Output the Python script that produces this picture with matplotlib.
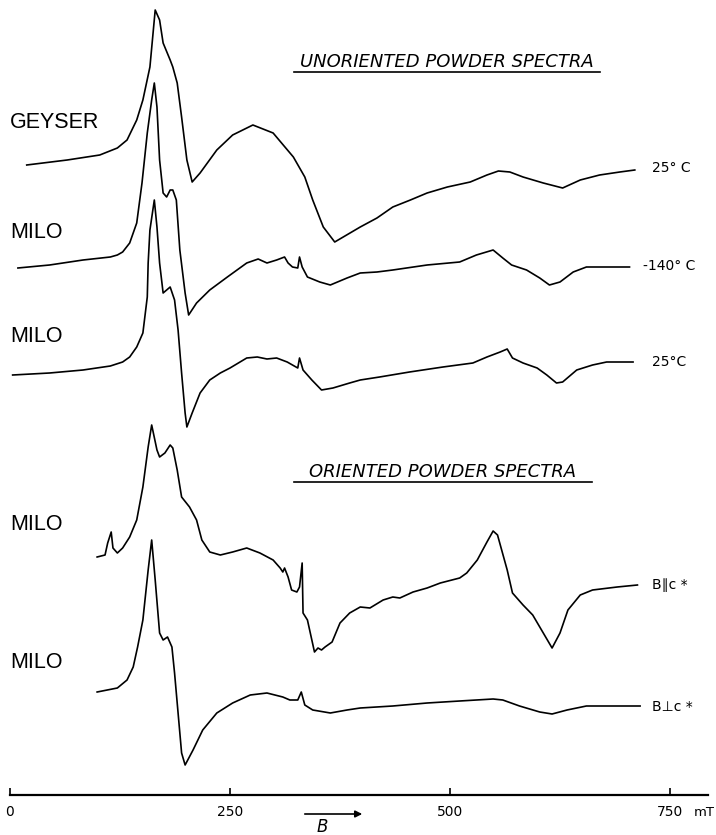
import matplotlib.pyplot as plt
import numpy as np

# === ESR traces: field (mT) and derivative signal (arb. units) ===
geyser_25_field = [19, 65, 102, 122, 133, 144, 151, 159, 165, 170, 174, 182, 185, 190, 195, 201, 207,
                   216, 235, 253, 276, 299, 322, 335, 344, 356, 369, 398, 417, 435, 455, 474, 497,
                   523, 542, 555, 568, 583, 606, 628, 648, 670, 693, 710]
geyser_25_signal = [0, 5, 10, 17, 25, 45, 65, 98, 155, 145, 122, 105, 98, 82, 48, 5, -17,
                    -8, 15, 30, 40, 32, 8, -12, -35, -62, -77, -62, -53, -42, -35, -28, -22,
                    -17, -10, -6, -7, -12, -18, -23, -15, -10, -7, -5]

milo_m140_field = [9, 45, 83, 114, 122, 128, 136, 144, 150, 156, 161, 164, 167, 170, 174, 178, 182,
                   185, 189, 193, 199, 203, 212, 227, 247, 269, 282, 292, 303, 312, 316, 321, 327,
                   329, 332, 338, 352, 364, 383, 398, 417, 435, 474, 511, 530, 549, 560, 570, 587,
                   602, 613, 625, 640, 655, 682, 704]
milo_m140_signal = [0, 3, 8, 11, 13, 16, 25, 45, 85, 135, 168, 185, 161, 108, 75, 71, 78,
                    78, 68, 18, -25, -47, -35, -22, -9, 5, 9, 5, 8, 11, 5, 1, 0,
                    11, 1, -9, -14, -17, -10, -5, -4, -2, 3, 6, 13, 18, 10, 3, -2,
                    -10, -17, -14, -4, 1, 1, 1]

milo_25_field = [3, 45, 83, 114, 128, 136, 144, 151, 156, 157, 159, 164, 167, 170, 174, 178, 182,
                 187, 191, 195, 199, 201, 207, 216, 227, 239, 250, 269, 281, 292, 303, 315, 321,
                 327, 329, 333, 343, 354, 367, 386, 398, 420, 454, 492, 526, 542, 557, 565, 571,
                 583, 599, 610, 621, 628, 644, 662, 678, 708]
milo_25_signal = [0, 2, 5, 9, 13, 18, 28, 42, 78, 112, 145, 175, 148, 112, 82, 85, 88,
                  75, 45, 2, -38, -52, -38, -18, -5, 2, 7, 17, 18, 16, 17, 13, 10,
                  7, 17, 5, -5, -15, -13, -8, -5, -2, 3, 8, 12, 18, 23, 26, 17,
                  12, 7, 0, -8, -7, 5, 10, 13, 13]

milo_par_field = [99, 108, 111, 115, 117, 122, 128, 136, 144, 151, 157, 161, 167, 170, 176, 182, 185,
                  190, 195, 204, 212, 218, 227, 239, 253, 269, 284, 299, 307, 310, 312, 316, 320,
                  326, 329, 332, 333, 338, 343, 346, 350, 354, 358, 366, 375, 386, 398, 409, 424,
                  435, 443, 458, 474, 489, 511, 519, 531, 542, 549, 554, 565, 571, 583, 594, 604,
                  616, 625, 634, 648, 662, 690, 713]
milo_par_signal = [0, 2, 14, 25, 9, 4, 9, 20, 37, 70, 110, 132, 107, 100, 104, 112, 109,
                   87, 60, 50, 37, 17, 5, 2, 5, 9, 4, -3, -11, -15, -11, -20, -33,
                   -35, -30, -6, -56, -63, -83, -95, -91, -93, -90, -85, -66, -56, -50, -51, -43,
                   -40, -41, -35, -31, -26, -21, -16, -3, 15, 26, 22, -13, -36, -48, -58, -73,
                   -91, -76, -53, -38, -33, -30, -28]

milo_perp_field = [99, 122, 133, 140, 145, 151, 157, 161, 165, 170, 174, 179, 184, 187, 191, 195, 199,
                   208, 219, 235, 253, 273, 292, 310, 318, 327, 331, 335, 344, 364, 383, 398, 435,
                   474, 511, 549, 560, 579, 602, 616, 633, 655, 685, 716]
milo_perp_signal = [0, 4, 12, 25, 45, 72, 122, 152, 112, 59, 52, 55, 45, 19, -21, -61, -73,
                    -58, -38, -21, -11, -3, -1, -5, -8, -8, 0, -13, -18, -21, -18, -16, -14,
                    -11, -9, -7, -8, -14, -20, -22, -18, -14, -14, -14]

sample_names = ["GEYSER", "MILO", "MILO", "MILO", "MILO"]
conditions = ["25\u00b0 C", "-140\u00b0 C", "25\u00b0C", "B\u2225c *", "B\u22a5c *"]
baselines = [165, 268, 375, 557, 692]          # vertical stacking of traces
name_rows = [122, 232, 337, 525, 662]
cond_rows = [168, 266, 362, 585, 707]
cond_fields = [730, 719, 729, 730, 730]

traces = [(geyser_25_field, geyser_25_signal), (milo_m140_field, milo_m140_signal),
          (milo_25_field, milo_25_signal), (milo_par_field, milo_par_signal),
          (milo_perp_field, milo_perp_signal)]

px_per_mT = 0.88
x0_px = 10


def mT(px):
    return (px - x0_px) / px_per_mT


fig = plt.figure(figsize=(7.16, 8.35), dpi=100)
ax = fig.add_axes([0, 0, 1, 1])
ax.set_xlim(mT(0), mT(716))
ax.set_ylim(-835, 0)

for (field, signal), base in zip(traces, baselines):
    y = np.array(signal) - base
    ax.plot(field, y, color='black', lw=1.2, solid_joinstyle='round')

for name, row in zip(sample_names, name_rows):
    ax.text(mT(10), -row, name, fontsize=15.5, family='Liberation Sans',
            ha='left', va='center')

for cond, row, f in zip(conditions, cond_rows, cond_fields):
    ax.text(f, -row, cond, fontsize=10, ha='left', va='center')

# section headings, underlined
for title, x_left, x_right, row, line_row in [("UNORIENTED POWDER SPECTRA", 294, 600, 62, 72),
                                               ("ORIENTED POWDER SPECTRA", 294, 592, 472, 482)]:
    ax.text(mT((x_left + x_right) / 2), -row, title, fontsize=13, style='italic',
            ha='center', va='center')
    ax.plot([mT(x_left), mT(x_right)], [-line_row, -line_row], color='black', lw=1.2)

# field axis
for side in ['left', 'right', 'top']:
    ax.spines[side].set_visible(False)
ax.spines['bottom'].set_position(('data', -795))
ax.spines['bottom'].set_bounds(0, mT(708))
ax.spines['bottom'].set_linewidth(1.6)
ax.set_xticks([0, 250, 500, 750])
ax.set_xticklabels(['0', '250', '500', '750'])
ax.tick_params(axis='x', direction='in', length=5, width=1.2, labelsize=10, pad=7)
ax.set_yticks([])
ax.text(mT(694), -812, "mT", fontsize=9.5, ha='left', va='center')

ax.annotate('', xy=(mT(365), -814), xytext=(mT(302), -814),
            arrowprops=dict(arrowstyle='-|>', color='black', lw=1.2, mutation_scale=10))
ax.text(mT(322), -827, "B", fontsize=12, style='italic', ha='center', va='center')

plt.savefig('out.png', dpi=100)
plt.close()
